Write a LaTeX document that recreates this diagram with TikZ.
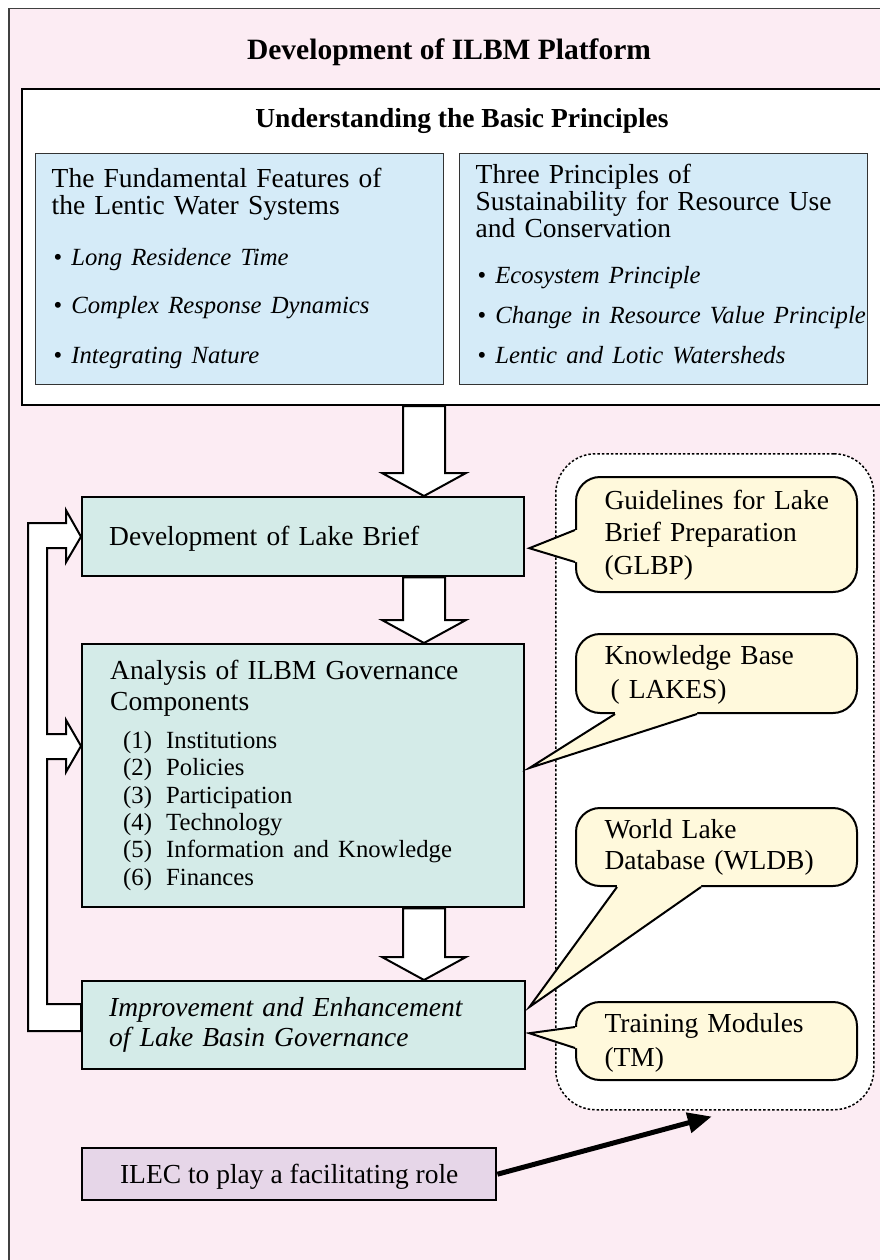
\documentclass[tikz,border=0pt]{standalone}
\usepackage{fontspec}
\setmainfont{Liberation Serif}
\usetikzlibrary{positioning,calc,arrows.meta}

\definecolor{framepink}{HTML}{FCECF3}
\definecolor{featureblue}{HTML}{D5EBF8}
\definecolor{stepgreen}{HTML}{D4EBE8}
\definecolor{toolyellow}{HTML}{FFF9DC}
\definecolor{ilecpurple}{HTML}{E6D6E8}

\newcommand{\bodyfont}{\fontsize{27.5}{32}\selectfont}
\newcommand{\smallitem}{\fontsize{24.7}{27}\selectfont}
\newcommand{\bulletline}[1]{\mbox{\smallitem\hspace*{2pt}\textbullet\hspace{9pt}\itshape #1}}
\newcommand{\govitem}[2]{\mbox{\smallitem\hspace*{13pt}\makebox[43pt][l]{#1}#2}}
% invisible struts: space above first baseline, below last baseline
\newcommand{\lineup}[1]{\rule{0pt}{#1pt}}
\newcommand{\linedown}[1]{\rule[-#1pt]{0pt}{#1pt}}

% hollow arrow going down: x position, from node, to node
\newcommand{\blockdown}[3]{%
  \draw[blockarrow] let \p1=(#2), \p2=(#3) in
    (#1pt-21pt,\y1) -- (#1pt+21pt,\y1) -- (#1pt+21pt,\y2+23pt) -- (#1pt+42pt,\y2+23pt)
    -- (#1pt,\y2) -- (#1pt-42pt,\y2+23pt) -- (#1pt-21pt,\y2+23pt) -- cycle;}

% callout pointer: base point, tip, base point, shift into the box
\newcommand{\calloutpointer}[4]{%
  \fill[toolyellow] (#1) -- (#2) -- (#3) -- ($(#3)+(#4)$) -- ($(#1)+(#4)$) -- cycle;
  \draw[pointer] (#1) -- (#2) -- (#3);}

\begin{document}
\begin{tikzpicture}[x=1pt, y=-1pt,
    every node/.style={font=\bodyfont, inner sep=0pt},
    panel/.style={draw, line width=2pt, anchor=north west},
    featurebox/.style={panel, fill=featureblue, draw=black!80, line width=1.4pt,
        text width=376pt, inner xsep=16pt, align=left, minimum width=408pt,
        minimum height=231pt, font=\fontsize{27.5}{27}\selectfont},
    stepbox/.style={panel, fill=stepgreen, line width=2.4pt, align=left},
    toolbox/.style={panel, fill=toolyellow, rounded corners=24pt, text width=224pt,
        inner xsep=28.5pt, align=left, minimum width=281pt,
        font=\fontsize{27.5}{32}\selectfont},
    blockarrow/.style={draw, fill=white, line width=2pt, line join=miter},
    pointer/.style={draw, line width=2pt, line join=miter}
]
\useasboundingbox (0,0) rectangle (880,1260);
\clip (0,0) rectangle (880,1260);

% Frame and headings
\node[draw=black!75, line width=1.5pt, fill=framepink, anchor=north west,
      minimum width=882pt, minimum height=1262pt] (frame) at (8,8) {};
\node[font=\bfseries\fontsize{29.5}{34}\selectfont, anchor=base] (title) at (449,60)
    {Development of ILBM Platform};
\node[panel, fill=white, minimum width=882pt, minimum height=316pt] (basic) at (21,88) {};
\node[font=\bfseries\bodyfont, anchor=base] (basictitle) at (462,128)
    {Understanding the Basic Principles};

% Basic principles
\node[featurebox] (lentic) at (35,153) {\lineup{34}The Fundamental Features of\\the Lentic Water Systems\\[24pt]
    \bulletline{Long Residence Time}\\[21pt]
    \bulletline{Complex Response Dynamics}\\[23pt]
    \bulletline{Integrating Nature}\linedown{21}};
\node[featurebox] (sustain) at (459,153) {\lineup{30}Three Principles of\\Sustainability for Resource Use\\and Conservation\\[19pt]
    \bulletline{Ecosystem Principle}\\[12.5pt]
    \bulletline{Change in Resource Value Principle}\\[13pt]
    \bulletline{Lentic and Lotic Watersheds}\linedown{21}};

% Tools area
\node[draw, fill=white, line width=1.5pt, dash pattern=on 2.5pt off 2pt, rounded corners=40pt,
      anchor=north west, minimum width=318pt, minimum height=656pt] (tools) at (555,453) {};

% Steps
\node[stepbox, text width=388pt, inner xsep=27pt, minimum width=442pt, minimum height=79pt]
    (brief) at (81,496) {\lineup{48}Development of Lake Brief\linedown{31}};
\node[stepbox, text width=386pt, inner xsep=28pt, minimum width=442pt, minimum height=263pt,
      font=\fontsize{27.5}{27.4}\selectfont] (analysis) at (81,643)
    {\lineup{35}Analysis of ILBM Governance\\[3.6pt]Components\\[10.6pt]
    \govitem{(1)}{Institutions}\\
    \govitem{(2)}{Policies}\\
    \govitem{(3)}{Participation}\\
    \govitem{(4)}{Technology}\\
    \govitem{(5)}{Information and Knowledge}\\
    \govitem{(6)}{Finances}\linedown{22}};
\node[stepbox, text width=389pt, inner xsep=27pt, minimum width=443pt, minimum height=88pt,
      font=\fontsize{27.5}{30}\selectfont\itshape] (improve) at (81,980)
    {\lineup{35}Improvement and Enhancement\\of Lake Basin Governance\linedown{23}};

% Hollow arrows
\blockdown{424}{basic.south}{brief.north}
\blockdown{424}{brief.south}{analysis.north}
\blockdown{424}{analysis.south}{improve.north}

% Feedback arrow
\draw[blockarrow] let \p1=(brief.west), \p2=(analysis.north west), \p3=(improve.west) in
  (\x3,\y3-6pt) -- (\x1-53pt,\y3-6pt) -- (\x1-53pt,\y1+13.5pt) -- (\x1-15pt,\y1+13.5pt)
  -- (\x1-15pt,\y1+26.5pt) -- (\x1,\y1) -- (\x1-15pt,\y1-25.5pt) -- (\x1-15pt,\y1-11.5pt)
  -- (\x1-34pt,\y1-11.5pt) -- (\x1-34pt,\y2-91pt) -- (\x1-15pt,\y2-91pt) -- (\x1-15pt,\y2-77pt)
  -- (\x1,\y2-103pt) -- (\x1-15pt,\y2-129pt) -- (\x1-15pt,\y2-116pt) -- (\x1-34pt,\y2-116pt)
  -- (\x1-34pt,\y3+21pt) -- (\x3,\y3+21pt) -- cycle;

% Tools
\node[toolbox, minimum height=115pt] (glbp) at (575,476)
    {\lineup{32}\mbox{Guidelines for Lake}\\Brief Preparation\\[1pt](GLBP)\linedown{18}};
\node[toolbox, minimum height=79pt] (lakes) at (575,633)
    {\lineup{30}Knowledge Base\\[2pt]\hspace*{6pt}( LAKES)\linedown{15}};
\node[toolbox, minimum height=78pt] (wldb) at (575,807)
    {\lineup{30}World Lake\\[-1pt]Database (WLDB)\linedown{17}};
\node[toolbox, minimum height=78pt] (tm) at (575,1001)
    {\lineup{30}Training Modules\\[2pt](TM)\linedown{14}};

\coordinate (glbpa) at ($(glbp.north west)+(0,54)$);
\coordinate (glbpb) at ($(glbp.north west)+(0,86)$);
\coordinate (glbptip) at ($(brief.east)+(4,11.5)$);
\calloutpointer{glbpa}{glbptip}{glbpb}{4,0}
\coordinate (lakesa) at ($(lakes.south west)+(40,0)$);
\coordinate (lakesb) at ($(lakes.south west)+(122,0)$);
\coordinate (lakestip) at ($(analysis.north east)+(4,125)$);
\calloutpointer{lakesa}{lakestip}{lakesb}{0,-4}
\coordinate (wldba) at ($(wldb.south west)+(42,0)$);
\coordinate (wldbb) at ($(wldb.south west)+(126,0)$);
\coordinate (wldbtip) at ($(improve.north east)+(3,27)$);
\calloutpointer{wldba}{wldbtip}{wldbb}{0,-4}
\coordinate (tma) at ($(tm.north west)+(0,26)$);
\coordinate (tmb) at ($(tm.north west)+(0,47)$);
\coordinate (tmtip) at ($(improve.east)+(3,8)$);
\calloutpointer{tma}{tmtip}{tmb}{4,0}

% ILEC
\node[panel, fill=ilecpurple, line width=2.4pt, minimum width=414pt, minimum height=52pt]
    (ilec) at (81,1147) {\lineup{35}ILEC to play a facilitating role\linedown{17}};
\coordinate (ilectip) at ($(tools.south)+(-3,6)$);
\draw[line width=5pt, -{Triangle[length=24pt,width=20pt]}] (ilec.east) -- (ilectip);

\end{tikzpicture}
\end{document}
